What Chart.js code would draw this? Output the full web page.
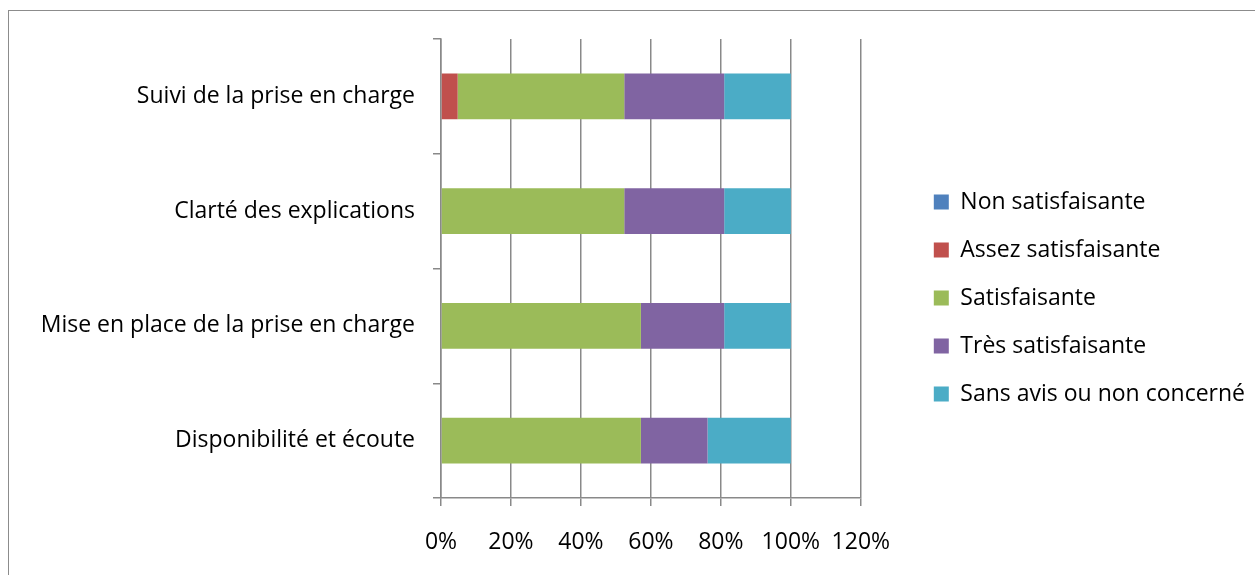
<!DOCTYPE html>
<html>
<head>
<meta charset="utf-8">
<script src="https://cdn.jsdelivr.net/npm/chart.js@4.4.0/dist/chart.umd.min.js"></script>
<style>
  html, body { margin: 0; padding: 0; background: #fff; overflow: hidden; }
  #wrap { position: relative; width: 1255px; height: 575px; }
  #frame { position: absolute; left: 8px; top: 10px; width: 1300px; height: 700px;
           border: 1.5px solid #8c8c8c; box-sizing: border-box; }
  #myChart { position: absolute; left: 0; top: 0; }
</style>
</head>
<body>
<div id="wrap">
  <div id="frame"></div>
  <canvas id="myChart" width="1255" height="575"></canvas>
</div>
<script>
    // categories, top to bottom as in the picture
    let categories = [ "Suivi de la prise en charge", "Clarté des explications",
                       "Mise en place de la prise en charge", "Disponibilité et écoute" ];
    // shares in %, 21 answers per question
    let nonSatisfaisante   = [ 0, 0, 0, 0 ];
    let assezSatisfaisante = [ 4.76, 0, 0, 0 ];
    let satisfaisante      = [ 47.62, 52.38, 57.14, 57.14 ];
    let tresSatisfaisante  = [ 28.57, 28.57, 23.81, 19.05 ];
    let sansAvis           = [ 19.05, 19.05, 19.05, 23.81 ];
    let xTicks = [ 0, 20, 40, 60, 80, 100, 120 ];

    let font = { family: "'Open Sans', sans-serif", size: 23 };

    let myChart = document.getElementById('myChart').getContext('2d');

    let satChart = new Chart(myChart, {
        type: 'bar',
        data: {
            labels: categories,
            datasets: [
                { label: "Non satisfaisante", backgroundColor: "#4F81BD", data: nonSatisfaisante },
                { label: "Assez satisfaisante", backgroundColor: "#C0504D", data: assezSatisfaisante },
                { label: "Satisfaisante", backgroundColor: "#9BBB59", data: satisfaisante },
                { label: "Très satisfaisante", backgroundColor: "#8064A2", data: tresSatisfaisante },
                { label: "Sans avis ou non concerné", backgroundColor: "#4BACC6", data: sansAvis }
            ]
        },
        options: {
            indexAxis: 'y',
            responsive: false,
            animation: false,
            devicePixelRatio: 1,
            categoryPercentage: 1,
            barPercentage: 0.4,
            layout: { padding: { top: 39, bottom: 18, left: 0, right: 0 } },
            scales: {
                x: {
                    stacked: true,
                    min: 0, max: 120,
                    afterBuildTicks: (s) => { s.ticks = xTicks.map(v => ({ value: v })); },
                    afterFit: (s) => { s.height = 59; },
                    border: { color: '#898989', width: 1.5 },
                    grid: { color: '#898989', lineWidth: 1.5, tickLength: 8 },
                    ticks: { color: '#000', font: font, padding: 23,
                             callback: (v) => v + '%' }
                },
                y: {
                    stacked: true,
                    afterFit: (s) => { s.width = 441; },
                    border: { color: '#898989', width: 1.5 },
                    grid: { offset: true, drawOnChartArea: false, color: '#898989',
                            lineWidth: 1.5, tickLength: 8 },
                    ticks: { color: '#000', font: font, padding: 18 }
                },
                gap: {
                    position: 'right',
                    display: true,
                    afterFit: (s) => { s.width = 48; },
                    grid: { display: false },
                    border: { display: false },
                    ticks: { display: false }
                }
            },
            plugins: {
                legend: {
                    position: 'right',
                    maxWidth: 347,
                    labels: { color: '#000', font: font, boxWidth: 15, boxHeight: 15, padding: 25 }
                },
                tooltip: { enabled: false }
            }
        }
    });
</script>
</body>
</html>
